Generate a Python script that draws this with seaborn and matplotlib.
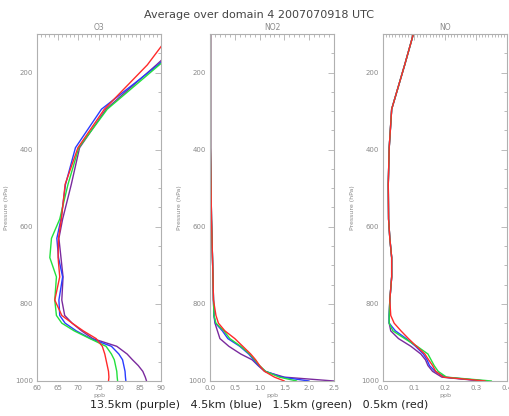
import numpy as np
import pandas as pd
import matplotlib
matplotlib.use("Agg")
import matplotlib.pyplot as plt
from matplotlib.ticker import MultipleLocator
import seaborn as sns

# ---- data ----
pressure = [100, 180, 295, 395, 490, 580, 630, 680, 730, 790, 830, 850,
            870, 890, 910, 930, 945, 960, 975, 990, 1000]

runs = ["13.5km", "4.5km", "1.5km", "0.5km"]
run_colors = ["#7a2a9e", "#2a3cff", "#22e03c", "#ff2a2a"]

o3_purple = [97.0, 88.9, 76.7, 70.3, 68.3, 66.2, 65.3, 65.8, 66.3, 66.0, 66.7, 68.5,
             70.8, 73.5, 79.3, 81.8, 83.1, 84.5, 85.6, 86.2, 86.5]
o3_blue = [98.0, 89.3, 75.6, 69.3, 66.9, 65.8, 64.8, 65.2, 66.2, 65.3, 65.5, 66.8,
           69.5, 73.0, 78.0, 79.8, 80.7, 81.0, 81.3, 81.4, 81.5]
o3_green = [99.0, 89.6, 77.0, 70.1, 67.5, 65.5, 63.5, 63.1, 64.7, 64.3, 64.7, 66.0,
            69.0, 72.8, 76.7, 78.0, 78.7, 79.0, 79.3, 79.4, 79.5]
o3_red = [92.3, 86.7, 76.3, 69.9, 66.8, 65.9, 65.2, 65.1, 65.5, 64.3, 66.0, 68.5,
          71.2, 74.3, 75.8, 76.4, 76.7, 77.0, 77.3, 77.4, 77.3]

no2_purple = [0.01, 0.01, 0.01, 0.01, 0.02, 0.03, 0.04, 0.05, 0.06, 0.07, 0.08, 0.10,
              0.15, 0.20, 0.38, 0.62, 0.85, 0.97, 1.10, 1.50, 2.50]
no2_blue = [0.01, 0.01, 0.01, 0.01, 0.02, 0.03, 0.04, 0.05, 0.06, 0.07, 0.08, 0.11,
            0.25, 0.36, 0.60, 0.78, 0.88, 0.98, 1.12, 1.45, 2.00]
no2_green = [0.01, 0.01, 0.01, 0.01, 0.02, 0.03, 0.04, 0.05, 0.06, 0.07, 0.08, 0.12,
             0.28, 0.40, 0.62, 0.80, 0.90, 1.00, 1.12, 1.40, 1.75]
no2_red = [0.01, 0.01, 0.01, 0.01, 0.02, 0.03, 0.04, 0.05, 0.06, 0.07, 0.12, 0.17,
           0.30, 0.50, 0.66, 0.82, 0.92, 1.00, 1.10, 1.30, 1.50]

no_purple = [0.098, 0.070, 0.028, 0.020, 0.017, 0.018, 0.022, 0.028, 0.028, 0.022, 0.020, 0.020,
             0.025, 0.050, 0.090, 0.122, 0.137, 0.145, 0.160, 0.190, 0.320]
no_blue = [0.098, 0.070, 0.028, 0.020, 0.017, 0.018, 0.022, 0.028, 0.028, 0.022, 0.020, 0.020,
           0.040, 0.075, 0.105, 0.130, 0.142, 0.150, 0.168, 0.200, 0.330]
no_green = [0.098, 0.070, 0.028, 0.020, 0.017, 0.018, 0.022, 0.028, 0.028, 0.022, 0.020, 0.020,
            0.032, 0.070, 0.110, 0.145, 0.155, 0.165, 0.178, 0.205, 0.350]
no_red = [0.098, 0.070, 0.028, 0.020, 0.017, 0.018, 0.022, 0.028, 0.028, 0.022, 0.025, 0.036,
          0.058, 0.082, 0.108, 0.135, 0.147, 0.160, 0.170, 0.195, 0.330]

species = ["O3", "NO2", "NO"]
species_data = {
    "O3": [o3_purple, o3_blue, o3_green, o3_red],
    "NO2": [no2_purple, no2_blue, no2_green, no2_red],
    "NO": [no_purple, no_blue, no_green, no_red],
}
x_ranges = {"O3": (60, 90), "NO2": (0, 2.5), "NO": (0, 0.4)}
x_major = {"O3": 5, "NO2": 0.5, "NO": 0.1}
x_minor = {"O3": 1, "NO2": 0.1, "NO": 0.01}
x_fmt = {"O3": "{:.0f}", "NO2": "{:.1f}", "NO": "{:.1f}"}

rows = []
for sp in species:
    for run, vals in zip(runs, species_data[sp]):
        for p, v in zip(pressure, vals):
            rows.append({"species": sp, "run": run, "pressure": p, "value": v})
df = pd.DataFrame(rows)

# ---- plot ----
sns.set_style("white")
plt.rcParams["font.family"] = ["DejaVu Sans"]
grey = "#8a8a8a"
edge = "#b0b0b0"

fig = plt.figure(figsize=(5.09, 4.16), dpi=100)
lefts = [37, 210, 383]
W, H = 509, 416
palette = dict(zip(runs, run_colors))

for sp, left in zip(species, lefts):
    ax = fig.add_axes([left / W, 1 - 381 / H, 124 / W, 347 / H])
    sns.lineplot(data=df[df["species"] == sp], x="value", y="pressure", hue="run",
                 hue_order=runs, palette=palette, orient="y", estimator=None,
                 sort=False, legend=False, linewidth=1.0, ax=ax)
    ax.set_xlim(*x_ranges[sp])
    ax.set_ylim(1000, 100)
    ax.xaxis.set_major_locator(MultipleLocator(x_major[sp]))
    ax.xaxis.set_minor_locator(MultipleLocator(x_minor[sp]))
    ax.yaxis.set_major_locator(MultipleLocator(200))
    ax.yaxis.set_minor_locator(MultipleLocator(50))
    ticks = ax.get_xticks()
    ticks = [t for t in ticks if x_ranges[sp][0] - 1e-9 <= t <= x_ranges[sp][1] + 1e-9]
    ax.set_xticks(ticks)
    ax.set_xticklabels([x_fmt[sp].format(t) for t in ticks])
    ax.tick_params(which="both", direction="in", top=True, right=True,
                   color=edge, labelcolor=grey, labelsize=5, width=0.6, pad=3)
    ax.tick_params(which="major", length=4)
    ax.tick_params(which="minor", length=2)
    for s in ax.spines.values():
        s.set_color(edge)
        s.set_linewidth(0.8)
    ax.set_xlabel("ppb", fontsize=4.5, color=grey, labelpad=1)
    ax.set_ylabel("Pressure (hPa)", fontsize=4.5, color=grey, labelpad=4)
    ax.set_title(sp, fontsize=5.5, color=grey, pad=3)

fig.text(0.509, 1 - 15 / H, "Average over domain 4 2007070918 UTC",
         ha="center", va="center", fontsize=8, color="#444444")
fig.text(0.509, 1 - 405 / H,
         "13.5km (purple)   4.5km (blue)   1.5km (green)   0.5km (red)",
         ha="center", va="center", fontsize=8, color="#222222")

fig.savefig("out.png", dpi=100)
